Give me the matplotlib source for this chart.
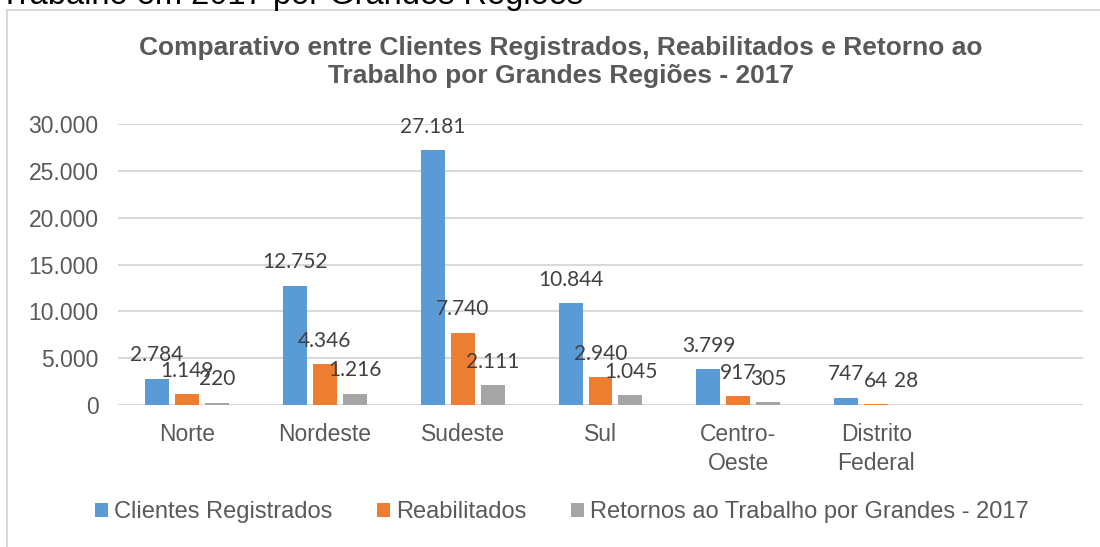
import numpy as np
import matplotlib.pyplot as plt
from matplotlib.lines import Line2D
from matplotlib.ticker import FuncFormatter

regioes = ['Norte', 'Nordeste', 'Sudeste', 'Sul', 'Centro-\nOeste', 'Distrito\nFederal', '']
clientes = [2784, 12752, 27181, 10844, 3799, 747]
reabilitados = [1149, 4346, 7740, 2940, 917, 64]
retornos = [220, 1216, 2111, 1045, 305, 28]
series_names = ['Clientes Registrados', 'Reabilitados',
                'Retornos ao Trabalho por Grandes - 2017']
cores = ['#5B9BD5', '#ED7D31', '#A5A5A5']
y_ticks = [0, 5000, 10000, 15000, 20000, 25000, 30000]

W, H = 1100, 547
GRAY_TEXT = '#595959'
GRID = '#D9D9D9'
plt.rcParams['font.family'] = ['Liberation Sans', 'DejaVu Sans']

fig = plt.figure(figsize=(W / 100, H / 100), dpi=100)
ax = fig.add_axes([118 / W, 1 - 405 / H, (1083 - 118) / W, (405 - 124) / H])

# chart frame, partially cut off at the right and bottom
fig.add_artist(Line2D([7 / W, 7 / W], [0, 1 - 10 / H], transform=fig.transFigure,
                      color=GRID, lw=1.5))
fig.add_artist(Line2D([7 / W, 1], [1 - 10 / H, 1 - 10 / H], transform=fig.transFigure,
                      color=GRID, lw=1.5))

# text from the document above the chart, cut off at the top
fig.text(0, 1 - 4 / H, 'Trabalho em 2017 por Grandes Regiões', fontsize=23.5,
         color='black', ha='left', va='baseline')

fig.text(561 / W, 1 - 62 / H,
         'Comparativo entre Clientes Registrados, Reabilitados e Retorno ao\n'
         'Trabalho por Grandes Regiões - 2017',
         ha='center', va='center', fontsize=19, fontweight='bold',
         color=GRAY_TEXT, linespacing=1.25)

x = np.arange(len(clientes))
width = 24 / 138
step = 30 / 138
for i, (vals, cor, nome) in enumerate(zip([clientes, reabilitados, retornos], cores, series_names)):
    pos = x + (i - 1) * step
    ax.bar(pos, vals, width=width, color=cor, label=nome, zorder=3)
    for px, v in zip(pos, vals):
        ax.annotate(f'{v:,}'.replace(',', '.'), (px, v), xytext=(0, 17),
                    textcoords='offset points', ha='center', va='center',
                    fontsize=15, family=['Lato', 'DejaVu Sans'], color='#404040', zorder=4)

ax.set_xlim(-0.5, len(regioes) - 0.5)
ax.set_ylim(0, 30000)
ax.set_yticks(y_ticks)
ax.yaxis.set_major_formatter(FuncFormatter(lambda v, _: f'{int(v):,}'.replace(',', '.')))
ax.set_xticks(np.arange(len(regioes)))
ax.set_xticklabels(regioes, linespacing=1.35)
ax.tick_params(axis='both', length=0, labelsize=16.5, labelcolor=GRAY_TEXT)
ax.tick_params(axis='y', pad=14)
ax.tick_params(axis='x', pad=13)
ax.grid(axis='y', color=GRID, lw=1.5, zorder=0)
for s in ax.spines.values():
    s.set_visible(False)

fig.legend(loc='center', bbox_to_anchor=(562 / W, 1 - 512 / H), ncol=3, frameon=False,
           fontsize=17, labelcolor=GRAY_TEXT, handlelength=0.55, handleheight=0.55,
           handletextpad=0.25, columnspacing=1.9)

fig.savefig('out.png', dpi=100)
